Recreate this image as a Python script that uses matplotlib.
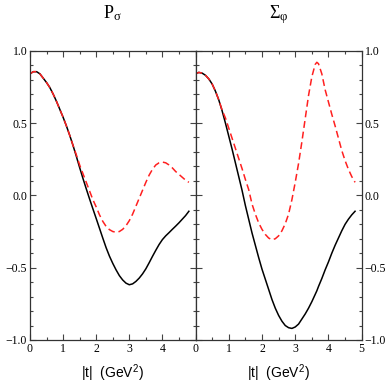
from __future__ import annotations

import matplotlib

matplotlib.use("Agg")
import matplotlib.pyplot as plt
import numpy as np
from matplotlib.ticker import FixedLocator, MultipleLocator

# |t| grid (GeV^2) for the left panel
T_LEFT = [0.0, 0.1, 0.2, 0.3, 0.4, 0.5, 0.6, 0.7, 0.8, 0.9, 1.0, 1.1, 1.2, 1.3,
          1.4, 1.5, 1.6, 1.7, 1.8, 1.9, 2.0, 2.1, 2.2, 2.3, 2.4, 2.5, 2.6, 2.7,
          2.8, 2.9, 3.0, 3.1, 3.2, 3.3, 3.4, 3.5, 3.6, 3.7, 3.8, 3.9, 4.0, 4.1,
          4.2, 4.3, 4.4, 4.5, 4.6, 4.7, 4.8]

P_SIGMA_SOLID = [0.84, 0.855, 0.855, 0.84, 0.81, 0.78, 0.745, 0.70, 0.65, 0.595,
                 0.54, 0.48, 0.415, 0.345, 0.27, 0.192, 0.117, 0.045, -0.025,
                 -0.093, -0.16, -0.228, -0.296, -0.362, -0.42, -0.47, -0.515,
                 -0.555, -0.585, -0.607, -0.618, -0.612, -0.595, -0.572, -0.543,
                 -0.508, -0.466, -0.422, -0.38, -0.34, -0.306, -0.28, -0.258,
                 -0.235, -0.213, -0.19, -0.165, -0.14, -0.11]

P_SIGMA_DASHED = [0.84, 0.855, 0.855, 0.84, 0.81, 0.78, 0.745, 0.70, 0.65, 0.595,
                  0.54, 0.48, 0.415, 0.345, 0.28, 0.21, 0.15, 0.09, 0.03, -0.03,
                  -0.08, -0.135, -0.18, -0.215, -0.237, -0.25, -0.255, -0.25,
                  -0.235, -0.21, -0.175, -0.13, -0.075, -0.02, 0.035, 0.09, 0.14,
                  0.18, 0.21, 0.225, 0.23, 0.225, 0.21, 0.19, 0.165, 0.145, 0.125,
                  0.105, 0.09]

# right panel
T_RIGHT = [0.0, 0.1, 0.2, 0.3, 0.4, 0.5, 0.6, 0.7, 0.8, 0.9, 1.0, 1.1, 1.2, 1.3,
           1.4, 1.5, 1.6, 1.7, 1.8, 1.9, 2.0, 2.1, 2.2, 2.3, 2.4, 2.5, 2.6, 2.7,
           2.8, 2.9, 3.0, 3.1, 3.2, 3.3, 3.4, 3.5, 3.6, 3.65, 3.7, 3.8, 3.9, 4.0,
           4.1, 4.2, 4.3, 4.4, 4.5, 4.6, 4.7, 4.8]

SIGMA_PHI_SOLID = [0.84, 0.85, 0.845, 0.83, 0.805, 0.77, 0.72, 0.66, 0.585, 0.50,
                   0.41, 0.32, 0.225, 0.13, 0.035, -0.07, -0.165, -0.26, -0.345,
                   -0.43, -0.51, -0.58, -0.65, -0.72, -0.78, -0.83, -0.87, -0.90,
                   -0.915, -0.92, -0.91, -0.89, -0.855, -0.82, -0.78, -0.735,
                   -0.685, -0.66, -0.63, -0.575, -0.515, -0.46, -0.40, -0.345,
                   -0.295, -0.245, -0.20, -0.165, -0.135, -0.11]

SIGMA_PHI_DASHED = [0.84, 0.85, 0.845, 0.83, 0.805, 0.77, 0.72, 0.66, 0.59, 0.535,
                    0.465, 0.395, 0.325, 0.255, 0.185, 0.11, 0.04, -0.06, -0.13,
                    -0.19, -0.235, -0.27, -0.295, -0.307, -0.30, -0.28, -0.245,
                    -0.196, -0.13, -0.03, 0.09, 0.22, 0.37, 0.53, 0.69, 0.82, 0.905,
                    0.92, 0.91, 0.84, 0.73, 0.645, 0.56, 0.48, 0.395, 0.31, 0.24,
                    0.18, 0.13, 0.09]

TITLES = [r"$\mathregular{P_σ}$", r"$\mathregular{Σ_φ}$"]
X_LABEL = r"|t|  (GeV$^\mathregular{2}$)"
X_TICKS_LEFT = [0, 1, 2, 3, 4]
X_TICKS_RIGHT = [0, 1, 2, 3, 4, 5]
Y_TICKS = [-1.0, -0.5, 0.0, 0.5, 1.0]

SERIF = "Liberation Serif"
SANS = "Liberation Sans"


def style_axis(ax, xticks, right_labels: bool) -> None:
    ax.set_xlim(0, 5)
    ax.set_ylim(-1, 1)
    ax.xaxis.set_major_locator(FixedLocator(xticks))
    ax.xaxis.set_minor_locator(MultipleLocator(0.5))
    ax.yaxis.set_major_locator(FixedLocator(Y_TICKS))
    ax.yaxis.set_minor_locator(MultipleLocator(0.1))
    ax.yaxis.set_major_formatter(plt.FuncFormatter(lambda v, _: f"{v:.1f}".replace("-", "\u2212")))
    ax.tick_params(which="both", direction="in", top=True, bottom=True,
                   left=True, right=True, width=0.8, color="#444444")
    ax.tick_params(which="major", length=4.0)
    ax.tick_params(which="minor", length=2.4)
    ax.tick_params(axis="x", pad=2.5)
    ax.tick_params(axis="y", pad=2, labelleft=not right_labels, labelright=right_labels)
    for label in ax.get_xticklabels() + ax.get_yticklabels():
        label.set_fontfamily(SERIF)
        label.set_fontsize(8.5)
    for spine in ax.spines.values():
        spine.set_linewidth(0.9)
        spine.set_color("#333333")


def draw_panel(ax, t, solid, dashed, title, xticks, right_labels: bool) -> None:
    ax.plot(t, solid, color="black", lw=1.1)
    ax.plot(t, dashed, color="#ff2020", lw=1.1, dashes=(4.5, 2.5))
    style_axis(ax, xticks, right_labels)
    ax.set_title(title, fontfamily=SERIF, fontsize=13, pad=23)
    ax.set_xlabel(X_LABEL, fontfamily=SANS, fontsize=10, labelpad=5)


def main() -> None:
    fig = plt.figure(figsize=(3.91, 3.85), dpi=100)
    ax_left = fig.add_axes([0.0767, 0.1169, 0.4233, 0.7514])
    ax_right = fig.add_axes([0.5, 0.1169, 0.4251, 0.7514])

    draw_panel(ax_left, T_LEFT, P_SIGMA_SOLID, P_SIGMA_DASHED, TITLES[0],
               X_TICKS_LEFT, right_labels=False)
    draw_panel(ax_right, T_RIGHT, SIGMA_PHI_SOLID, SIGMA_PHI_DASHED, TITLES[1],
               X_TICKS_RIGHT, right_labels=True)

    fig.savefig("out.png", dpi=100)
    plt.close(fig)


if __name__ == "__main__":
    main()
